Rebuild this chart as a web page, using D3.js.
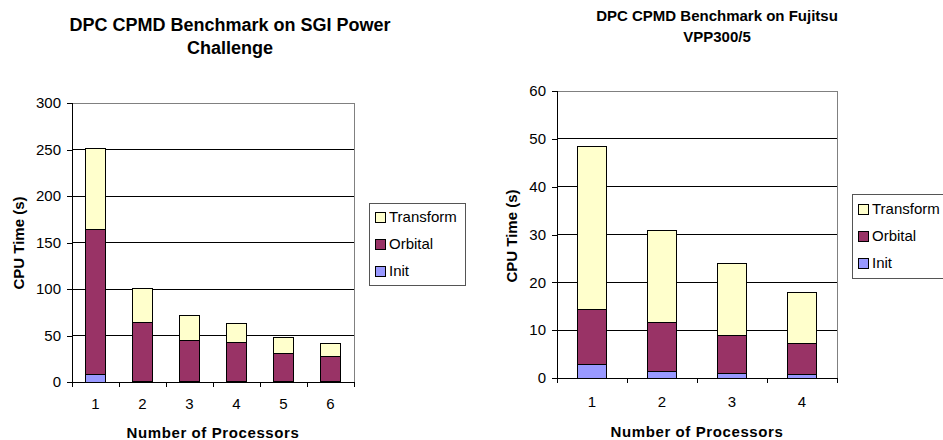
<!DOCTYPE html>
<html>
<head>
  <meta charset="UTF-8">
  <title>DPC CPMD Benchmark</title>
  <script src="https://d3js.org/d3.v7.min.js"></script>
  <style>
    body {
      margin: 0;
      background: #fff;
      font-family: Arial, 'Liberation Sans', sans-serif;
    }
    .tick-label { font-size: 15px; fill: #000; }
    .axis-title { font-size: 15px; font-weight: bold; fill: #000; }
    .legend-text { font-size: 15px; fill: #000; }
  </style>
</head>
<body>
  <svg id="chart" width="943" height="440"></svg>

  <script>
    // series (bottom to top in each stack)
    const seriesNames = ["Init", "Orbital", "Transform"];
    const seriesColors = ["#9999FF", "#993366", "#FFFFCC"];

    // SGI Power Challenge
    const procsSGI = ["1", "2", "3", "4", "5", "6"];
    const initSGI = [8, 1, 1, 1, 1, 1];
    const orbitalSGI = [155.5, 63, 43.5, 42, 30, 26.5];
    const transformSGI = [88, 37, 26.5, 20, 16.5, 13.5];
    const yTicksSGI = [0, 50, 100, 150, 200, 250, 300];

    // Fujitsu VPP300/5
    const procsFujitsu = ["1", "2", "3", "4"];
    const initFujitsu = [2.9, 1.4, 1.0, 0.8];
    const orbitalFujitsu = [11.4, 10.1, 7.9, 6.4];
    const transformFujitsu = [34.2, 19.3, 15.0, 10.7];
    const yTicksFujitsu = [0, 10, 20, 30, 40, 50, 60];

    const svg = d3.select("#chart");

    function drawChart(opt) {
      const rows = opt.procs.map((p, i) => ({
        proc: p,
        Init: opt.init[i],
        Orbital: opt.orbital[i],
        Transform: opt.transform[i]
      }));
      const stacked = d3.stack().keys(seriesNames)(rows);

      const x = d3.scaleBand()
        .domain(opt.procs)
        .range([opt.left, opt.right])
        .paddingInner(0.58)
        .paddingOuter(0.29);

      const y = d3.scaleLinear()
        .domain([0, d3.max(opt.yTicks)])
        .range([opt.bottom, opt.top]);

      const g = svg.append("g");

      // title
      opt.title.forEach((line, i) => {
        g.append("text")
          .attr("x", opt.titleX)
          .attr("y", opt.titleY[i])
          .attr("text-anchor", "middle")
          .style("font-size", opt.titleSize + "px")
          .style("font-weight", "bold")
          .text(line);
      });

      // plot area border (top, right)
      g.append("path")
        .attr("d", `M${opt.left},${y(d3.max(opt.yTicks))}H${opt.right}V${opt.bottom}`)
        .attr("fill", "none")
        .attr("stroke", "#808080")
        .attr("shape-rendering", "crispEdges");

      // gridlines
      g.selectAll(".grid")
        .data(opt.yTicks.filter(t => t > 0 && t < d3.max(opt.yTicks)))
        .enter()
        .append("line")
        .attr("x1", opt.left)
        .attr("x2", opt.right)
        .attr("y1", d => y(d))
        .attr("y2", d => y(d))
        .attr("stroke", "#000")
        .attr("shape-rendering", "crispEdges");

      // bars
      stacked.forEach((layer, k) => {
        g.selectAll(null)
          .data(layer)
          .enter()
          .append("rect")
          .attr("x", d => x(d.data.proc))
          .attr("y", d => y(d[1]))
          .attr("width", x.bandwidth())
          .attr("height", d => y(d[0]) - y(d[1]))
          .attr("fill", seriesColors[k])
          .attr("stroke", "#000")
          .attr("stroke-width", 1)
          .attr("shape-rendering", "crispEdges");
      });

      // y axis
      const yAxis = g.append("g")
        .attr("transform", `translate(${opt.left},0)`)
        .call(d3.axisLeft(y).tickValues(opt.yTicks).tickSize(5).tickPadding(6));
      yAxis.select(".domain").attr("stroke", "#000").attr("shape-rendering", "crispEdges");
      yAxis.selectAll(".tick line").attr("stroke", "#000").attr("shape-rendering", "crispEdges");
      yAxis.selectAll(".tick text")
        .attr("class", "tick-label")
        .style("font-family", "Arial, 'Liberation Sans', sans-serif");

      // x axis line and boundary ticks
      g.append("line")
        .attr("x1", opt.left)
        .attr("x2", opt.right)
        .attr("y1", opt.bottom)
        .attr("y2", opt.bottom)
        .attr("stroke", "#000")
        .attr("shape-rendering", "crispEdges");

      g.selectAll(".xtick")
        .data(d3.range(opt.procs.length + 1))
        .enter()
        .append("line")
        .attr("x1", i => opt.left + i * x.step())
        .attr("x2", i => opt.left + i * x.step())
        .attr("y1", opt.bottom)
        .attr("y2", opt.bottom + 5)
        .attr("stroke", "#000")
        .attr("shape-rendering", "crispEdges");

      g.selectAll(".xlabel")
        .data(opt.procs)
        .enter()
        .append("text")
        .attr("class", "tick-label")
        .attr("x", d => x(d) + x.bandwidth() / 2)
        .attr("y", opt.xLabelY)
        .attr("text-anchor", "middle")
        .text(d => d);

      // axis titles
      g.append("text")
        .attr("class", "axis-title")
        .attr("x", (opt.left + opt.right) / 2)
        .attr("y", opt.xTitleY)
        .attr("text-anchor", "middle")
        .style("letter-spacing", "0.6px")
        .text("Number of Processors");

      g.append("text")
        .attr("class", "axis-title")
        .attr("transform", `translate(${opt.yTitleX},${opt.yTitleY}) rotate(-90)`)
        .attr("text-anchor", "middle")
        .attr("dy", "0.35em")
        .text("CPU Time (s)");

      // legend
      const lg = g.append("g")
        .attr("transform", `translate(${opt.legendX},${opt.legendY})`);
      lg.append("rect")
        .attr("width", opt.legendW)
        .attr("height", opt.legendH)
        .attr("fill", "#fff")
        .attr("stroke", "#555")
        .attr("shape-rendering", "crispEdges");

      const legendOrder = seriesNames.slice().reverse();
      legendOrder.forEach((name, i) => {
        const cy = opt.legendFirst + i * 27;
        lg.append("rect")
          .attr("x", 6)
          .attr("y", cy - 5)
          .attr("width", 10)
          .attr("height", 10)
          .attr("fill", seriesColors[seriesNames.indexOf(name)])
          .attr("stroke", "#000")
          .attr("shape-rendering", "crispEdges");
        lg.append("text")
          .attr("class", "legend-text")
          .attr("x", 20)
          .attr("y", cy)
          .attr("dy", "0.35em")
          .text(name);
      });
    }

    drawChart({
      procs: procsSGI, init: initSGI, orbital: orbitalSGI, transform: transformSGI,
      yTicks: yTicksSGI,
      left: 72, right: 354, top: 103, bottom: 382,
      title: ["DPC CPMD Benchmark on SGI Power", "Challenge"],
      titleX: 230, titleY: [31, 54], titleSize: 18,
      xLabelY: 409, xTitleY: 438, yTitleX: 19, yTitleY: 243,
      legendX: 369, legendY: 203, legendW: 96, legendH: 82, legendFirst: 14
    });

    drawChart({
      procs: procsFujitsu, init: initFujitsu, orbital: orbitalFujitsu, transform: transformFujitsu,
      yTicks: yTicksFujitsu,
      left: 557, right: 837, top: 91, bottom: 378,
      title: ["DPC CPMD Benchmark on Fujitsu", "VPP300/5"],
      titleX: 717, titleY: [21, 42], titleSize: 15,
      xLabelY: 406.5, xTitleY: 436.5, yTitleX: 512, yTitleY: 236,
      legendX: 852, legendY: 194, legendW: 100, legendH: 84, legendFirst: 15
    });
  </script>
</body>
</html>
